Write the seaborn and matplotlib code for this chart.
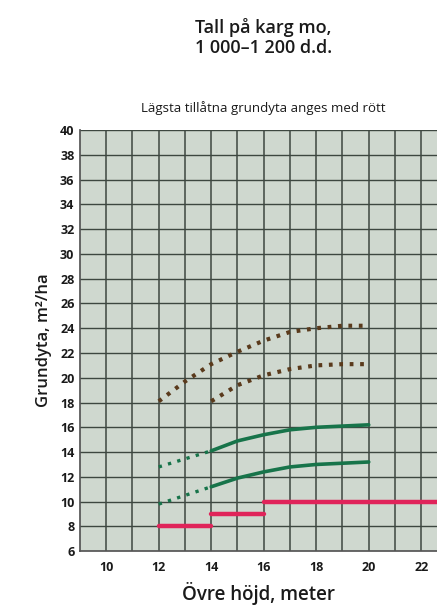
import matplotlib
matplotlib.use("Agg")
import matplotlib.pyplot as plt
import numpy as np
import pandas as pd
import seaborn as sns

# values
heights = [12, 13, 14, 15, 16, 17, 18, 19, 20]
brown_upper = [18.1, 19.7, 21.1, 22.1, 23.0, 23.7, 24.0, 24.2, 24.2]
brown_lower_x = [14, 15, 16, 17, 18, 19, 20]
brown_lower = [18.1, 19.4, 20.2, 20.7, 21.0, 21.1, 21.1]

green_x_dotted = [12, 14]
green_upper_dotted = [12.8, 14.1]
green_lower_dotted = [9.8, 11.2]
green_x_solid = [14, 15, 16, 17, 18, 19, 20]
green_upper_solid = [14.1, 14.9, 15.4, 15.8, 16.0, 16.1, 16.2]
green_lower_solid = [11.2, 11.9, 12.4, 12.8, 13.0, 13.1, 13.2]

red_start = [12, 14, 16]
red_end = [14, 16, 22.6]
red_level = [8, 9, 10]

x_ticks = [10, 12, 14, 16, 18, 20, 22]
y_ticks = list(range(6, 41, 2))

sns.set_theme(style="white")
plt.rcParams["font.family"] = ["Open Sans", "DejaVu Sans"]

fig = plt.figure(figsize=(4.37, 6.05), dpi=100)
ax = fig.add_axes([0.183, 0.089, 0.817, 0.696])
ax.set_facecolor("#cfd8cf")

brown = "#5a3a1c"
green = "#17744a"
red = "#e0245a"

sns.lineplot(x=heights, y=brown_upper, ax=ax, color=brown, lw=3.0, zorder=3)
sns.lineplot(x=brown_lower_x, y=brown_lower, ax=ax, color=brown, lw=3.0, zorder=3)
for ln in ax.lines:
    ln.set_linestyle((0, (0.9, 1.6)))
    ln.set_dash_capstyle("butt")

n = len(ax.lines)
sns.lineplot(x=green_x_dotted, y=green_upper_dotted, ax=ax, color=green, lw=2.4, zorder=3)
sns.lineplot(x=green_x_dotted, y=green_lower_dotted, ax=ax, color=green, lw=2.4, zorder=3)
for ln in ax.lines[n:]:
    ln.set_linestyle((0, (1.0, 1.9)))
    ln.set_dash_capstyle("butt")
sns.lineplot(x=green_x_solid, y=green_upper_solid, ax=ax, color=green, lw=2.6, zorder=3)
sns.lineplot(x=green_x_solid, y=green_lower_solid, ax=ax, color=green, lw=2.6, zorder=3)

red_df = pd.DataFrame({"x": red_start + red_end,
                       "y": red_level + red_level,
                       "seg": [0, 1, 2, 0, 1, 2]})
sns.lineplot(data=red_df, x="x", y="y", units="seg", estimator=None,
             ax=ax, color=red, lw=3.2, zorder=3)

ax.set_xlim(9, 22.6)
ax.set_ylim(6, 40)
ax.set_xticks(x_ticks)
ax.set_yticks(y_ticks)
for v in np.arange(10, 23, 1):
    ax.axvline(v, color="#3d4740", lw=1.1, zorder=1)
for v in y_ticks[1:]:
    ax.axhline(v, color="#3d4740", lw=1.0, zorder=1)

for s in ["top", "right"]:
    ax.spines[s].set_visible(False)
ax.spines["left"].set_color("#555555")
ax.spines["bottom"].set_color("#555555")
ax.tick_params(axis="y", length=3, width=0.8, color="#555555", pad=1,
               labelsize=9, labelcolor="#1a1a1a")
ax.tick_params(axis="x", length=0, pad=7, labelsize=9, labelcolor="#1a1a1a")
for lab in ax.get_xticklabels() + ax.get_yticklabels():
    lab.set_fontweight("bold")

ax.set_xlabel("Övre höjd, meter", fontsize=13.5, labelpad=6, color="#1a1a1a",
              fontweight="semibold")
ax.set_ylabel("Grundyta, m²/ha", fontsize=12, labelpad=6, color="#1a1a1a",
              fontweight="semibold")

fig.text(0.603, 0.938, "Tall på karg mo,\n1 000–1 200 d.d.", ha="center", va="center",
         fontsize=13, color="#1a1a1a", linespacing=1.2, fontweight="semibold")
fig.text(0.603, 0.821, "Lägsta tillåtna grundyta anges med rött", ha="center",
         va="center", fontsize=9.5, color="#1a1a1a")

fig.savefig("out.png", dpi=100)
